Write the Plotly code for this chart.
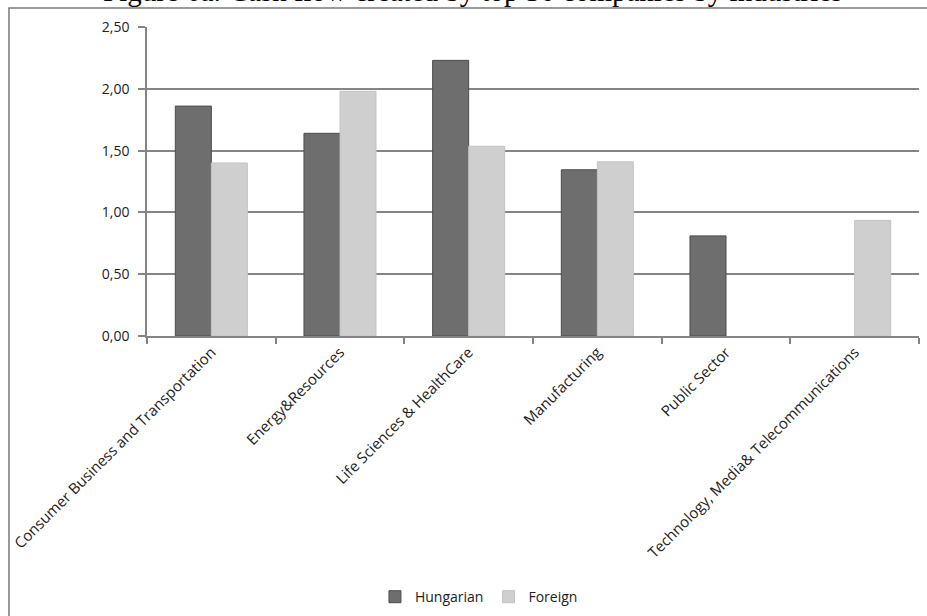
import plotly.graph_objects as go

categories = ["Consumer Business and Transportation", "Energy&Resources",
              "Life Sciences & HealthCare", "Manufacturing", "Public Sector",
              "Technology, Media& Telecommunications"]
hungarian = [1.86, 1.64, 2.23, 1.345, 0.81, None]
foreign = [1.40, 1.98, 1.535, 1.41, None, 0.935]
y_tickvals = [0.0, 0.5, 1.0, 1.5, 2.0, 2.5]
y_ticktext = ["0,00", "0,50", "1,00", "1,50", "2,00", "2,50"]
title_text = "Figure 6a: Cash flow created by top 50 companies by industries"

font_main = "Open Sans"
grid_col = "#858585"

fig = go.Figure()
fig.add_trace(go.Bar(x=categories, y=hungarian, name="Hungarian",
                     marker=dict(color="#6e6e6e", line=dict(color="#4d4d4d", width=1))))
fig.add_trace(go.Bar(x=categories, y=foreign, name="Foreign",
                     marker=dict(color="#cfcfcf", line=dict(color="#c4c4c4", width=1))))

fig.update_layout(
    width=927, height=616,
    margin=dict(l=147, r=8, t=27, b=280, pad=0, autoexpand=False),
    paper_bgcolor="white", plot_bgcolor="white",
    barmode="group", bargap=0.44, bargroupgap=0.0,
    font=dict(family=font_main, size=14, color="#222222"),
    showlegend=True,
    legend=dict(orientation="h", x=0.43, xanchor="center", y=-0.845, yanchor="middle",
                font=dict(family=font_main, size=14, color="#222222"),
                itemwidth=30, tracegroupgap=0),
    xaxis=dict(showgrid=False, showline=True, linecolor=grid_col, linewidth=1.5,
               ticks="outside", tickson="boundaries", ticklen=6, tickcolor=grid_col,
               tickwidth=1.5, tickangle=-45, tickfont=dict(family=font_main, size=15),
               fixedrange=True, automargin=False),
    yaxis=dict(range=[0, 2.5], tickvals=y_tickvals, ticktext=y_ticktext,
               showgrid=True, gridcolor=grid_col, gridwidth=1.5,
               showline=True, linecolor=grid_col, linewidth=1.5,
               ticks="outside", ticklen=7, tickcolor=grid_col, tickwidth=1.5,
               tickfont=dict(family=font_main, size=14), zeroline=False,
               ticklabelstandoff=6, automargin=False),
)

# outer frame
fig.add_shape(type="rect", xref="paper", yref="paper",
              x0=-0.1788, x1=1.05, y0=-1.2, y1=1.0615,
              line=dict(color="#7a7a7a", width=1.5), fillcolor="rgba(0,0,0,0)", layer="below")

# clipped title (only its lower edge shows, as in the source)
fig.add_annotation(text=title_text, xref="paper", yref="paper",
                   x=(472 - 147) / 772, y=1 + (27 - 9) / 309, xanchor="center", yanchor="bottom",
                   showarrow=False,
                   font=dict(family="Liberation Serif", size=29, color="black"))

fig.write_html("out.html")
